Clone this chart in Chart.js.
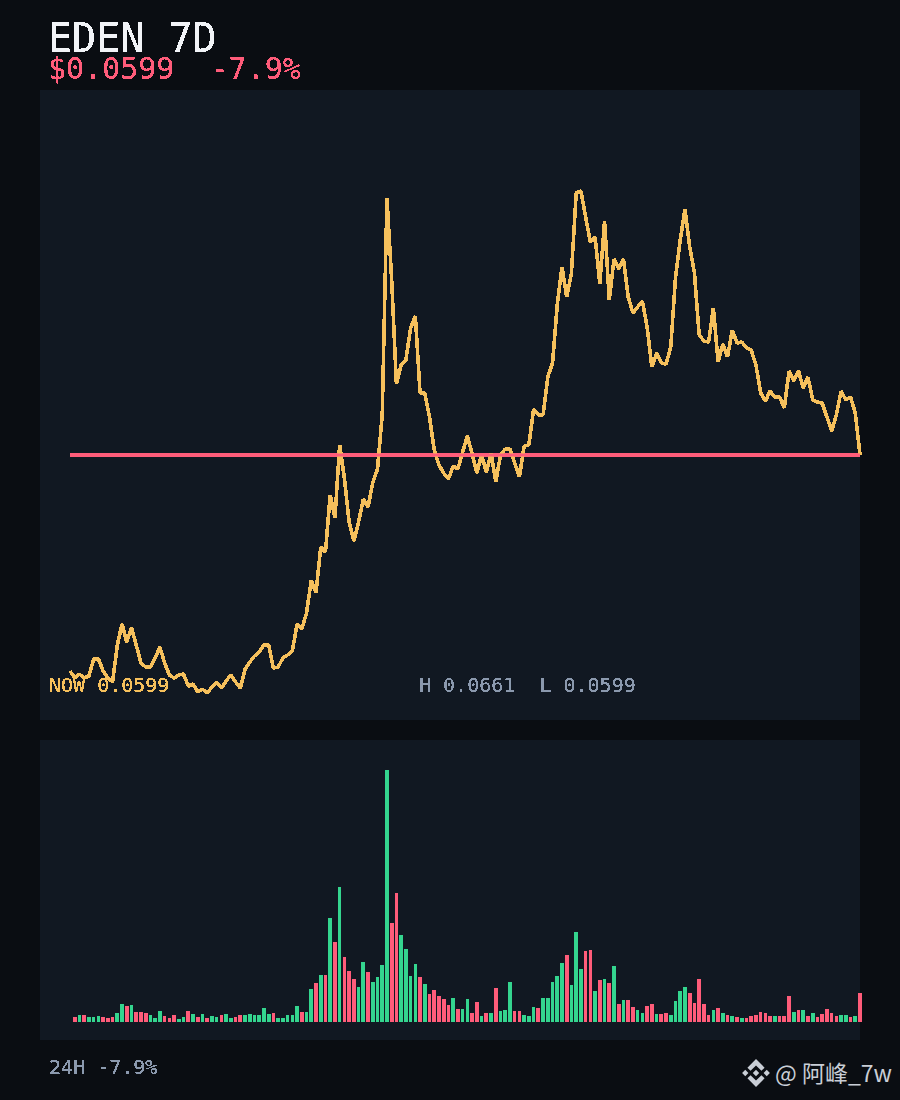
<!DOCTYPE html>
<html>
<head>
<meta charset="utf-8">
<script src="https://cdn.jsdelivr.net/npm/chart.js@4/dist/chart.umd.js"></script>
<style>
html,body{margin:0;padding:0;background:#0a0d12;width:900px;height:1100px;overflow:hidden}
.panel{position:absolute;left:40px;width:820px;background:#111822}
canvas{position:absolute;left:40px;display:block}
.t{position:absolute;font-family:"DejaVu Sans Mono",monospace;line-height:1;white-space:pre;filter:url(#crisp)}
#wm{position:absolute;left:775px;top:1058px;font:23px/28px "Noto Sans CJK SC","Noto Sans",sans-serif;color:#c9ced6;white-space:pre}
#logo{position:absolute;left:742px;top:1059px;width:28px;height:28px}
</style>
</head>
<body>
<svg width="0" height="0" style="position:absolute"><filter id="crisp" x="0" y="0" width="100%" height="100%" color-interpolation-filters="sRGB"><feComponentTransfer><feFuncA type="discrete" tableValues="0 1 1"/></feComponentTransfer></filter></svg>
<div class="panel" style="top:90px;height:630px"></div>
<div class="panel" style="top:740px;height:300px"></div>
<canvas id="price" width="840" height="630" style="top:90px;width:840px;height:630px"></canvas>
<canvas id="volume" width="840" height="300" style="top:740px;width:840px;height:300px"></canvas>
<div class="t" style="left:48px;top:18px;font-size:40px;color:#f2f4f8">EDEN 7D</div>
<div class="t" style="left:48px;top:54px;font-size:30px;color:#ff5c7a">$0.0599  -7.9%</div>
<div class="t" style="left:49px;top:675px;font-size:20px;color:#f6c05c">NOW 0.0599</div>
<div class="t" style="left:419px;top:675px;font-size:20px;color:#8b99ae">H 0.0661  L 0.0599</div>
<div class="t" style="left:49px;top:1057px;font-size:20px;color:#8b99ae">24H -7.9%</div>
<svg id="logo" viewBox="-1 -1 128 128"><path fill="#c9ced6" d="M38.2 53.1L63 28.3l24.8 24.8 14.4-14.4L63 -0.5 23.8 38.7zM-0.5 63l14.4-14.4L28.3 63 13.9 77.4zM38.2 72.9L63 97.7l24.8-24.8 14.4 14.4L63 126.5 23.8 87.3zM97.7 63l14.4-14.4L126.5 63l-14.4 14.4zM77.6 63L63 48.4 48.4 63 63 77.6z"/></svg>
<div id="wm">@ 阿峰_7w</div>
<script>
// hourly close over 7 days
const closes = [
0.054500,0.054325,0.054425,0.054325,0.054375,0.054800,0.054800,0.054500,0.054325,0.054225,
0.055150,0.055675,0.055225,0.055575,0.055150,0.054700,0.054600,0.054600,0.054825,0.055100,
0.054700,0.054400,0.054325,0.054400,0.054425,0.054125,0.054175,0.053975,0.054050,0.053950,
0.054100,0.054225,0.054075,0.054250,0.054400,0.054225,0.054075,0.054550,0.054725,0.054875,
0.054975,0.055150,0.055150,0.054575,0.054600,0.054825,0.054900,0.055000,0.055675,0.055550,
0.055950,0.056775,0.056450,0.057600,0.057475,0.058900,0.058325,0.060150,0.059325,0.058225,
0.057750,0.058225,0.058800,0.058600,0.059200,0.059550,0.060900,0.066325,0.064275,0.061675,
0.062150,0.062275,0.063075,0.063375,0.061450,0.061450,0.060850,0.060025,0.059650,0.059450,
0.059300,0.059625,0.059550,0.059975,0.060375,0.059925,0.059450,0.059900,0.059475,0.059950,
0.059225,0.059900,0.060050,0.060050,0.059700,0.059350,0.060125,0.060150,0.061050,0.060900,
0.060900,0.061850,0.062200,0.063650,0.064600,0.063850,0.064450,0.066450,0.066500,0.065850,
0.065225,0.065350,0.064175,0.065750,0.063775,0.064800,0.064550,0.064800,0.063850,0.063450,
0.063600,0.063750,0.063100,0.062100,0.062450,0.062200,0.062175,0.062600,0.064350,0.065275,
0.066050,0.065100,0.064450,0.062900,0.062750,0.062725,0.063575,0.062225,0.062675,0.062350,
0.063025,0.062700,0.062725,0.062575,0.062525,0.062150,0.061450,0.061250,0.061500,0.061350,
0.061350,0.061075,0.062000,0.061750,0.062000,0.061575,0.061850,0.061275,0.061225,0.061200,
0.060850,0.060500,0.060900,0.061500,0.061275,0.061350,0.060950,0.059900];
const nowPrice = 0.0599;
// hourly volume, starting with the second hour
const volumes = [
5,7,7,5,5,6,5,4,5,9,18,16,17,10,10,9,7,4,11,6,4,7,3,5,11,8,5,8,4,6,5,7,8,4,5,7,7,8,7,7,14,8,9,4,4,7,7,16,
10,10,33,39,47,47,104,80,135,65,51,43,35,60,50,40,45,57,252,99,129,87,73,46,58,45,38,28,32,26,23,17,24,13,13,23,9,20,6,9,9,34,11,12,40,11,11,7,6,15,14,24,24,40,46,59,67,37,90,53,71,72,
31,42,43,39,56,18,22,22,15,12,9,16,18,8,8,9,7,21,31,35,29,19,43,18,7,12,14,9,7,6,5,4,4,6,7,10,9,6,6,6,6,26,10,12,12,6,9,5,8,13,9,6,7,7,5,6,29];
// 1 = hour closed up, 0 = hour closed down
const upHours = [
0,1,0,1,1,1,0,0,0,1,1,0,1,0,0,0,1,1,1,0,0,0,1,1,0,1,0,1,0,1,1,0,1,1,0,0,1,1,1,1,1,1,0,1,1,1,1,1,
0,1,1,0,1,0,1,0,1,0,0,0,1,1,0,1,1,1,1,0,0,1,1,1,1,0,1,0,0,0,0,0,1,0,1,1,0,0,1,0,1,0,1,1,1,0,0,1,1,1,0,1,1,1,1,1,0,1,1,1,0,0,
1,0,1,0,1,0,1,0,0,1,1,0,0,1,0,0,1,1,1,1,0,0,0,0,0,1,0,1,0,1,0,1,0,0,0,0,0,0,1,0,0,0,1,0,1,0,1,0,0,0,0,0,1,1,0,1,0,0];
const hours = closes.map((_, i) => i);

const YELLOW = '#f6c05c', RED = '#ff5c7a', GREEN = '#34d58f';

// The reference is drawn without anti-aliasing: snap every canvas pixel.
const crispPixels = {
  id: 'crispPixels',
  afterDraw(chart) {
    const c = chart.ctx, w = chart.canvas.width, h = chart.canvas.height;
    const img = c.getImageData(0, 0, w, h), d = img.data;
    for (let i = 3; i < d.length; i += 4) d[i] = d[i] >= 128 ? 255 : 0;
    c.putImageData(img, 0, 0);
  }
};

new Chart(document.getElementById('price'), {
  type: 'line',
  data: {
    labels: hours,
    datasets: [
      { data: closes.map(() => nowPrice), borderColor: RED, borderWidth: 3, pointRadius: 0, tension: 0, order: 0, clip: false },
      { data: closes, borderColor: YELLOW, borderWidth: 3.6, borderJoinStyle: 'bevel', pointRadius: 0, tension: 0, order: 1, clip: false }
    ]
  },
  options: {
    responsive: false, animation: false, devicePixelRatio: 1,
    layout: { padding: { left: 30, right: 20, top: 0, bottom: 0 } },
    plugins: { legend: { display: false }, title: { display: false }, tooltip: { enabled: false } },
    scales: {
      x: { display: false, offset: false },
      y: { display: false, min: 0.053275, max: 0.069025 }
    }
  },
  plugins: [crispPixels]
});

new Chart(document.getElementById('volume'), {
  type: 'bar',
  data: {
    labels: hours,
    datasets: [{
      data: [null].concat(volumes),
      backgroundColor: [RED].concat(upHours.map(u => u ? GREEN : RED)),
      barThickness: 3, borderWidth: 0, clip: false
    }]
  },
  options: {
    responsive: false, animation: false, devicePixelRatio: 1,
    layout: { padding: { left: 30, right: 20, top: 30, bottom: 18 } },
    plugins: { legend: { display: false }, title: { display: false }, tooltip: { enabled: false } },
    scales: {
      x: { display: false, offset: false },
      y: { display: false, min: 0, max: 252 }
    }
  },
  plugins: [crispPixels]
});
</script>
</body>
</html>
